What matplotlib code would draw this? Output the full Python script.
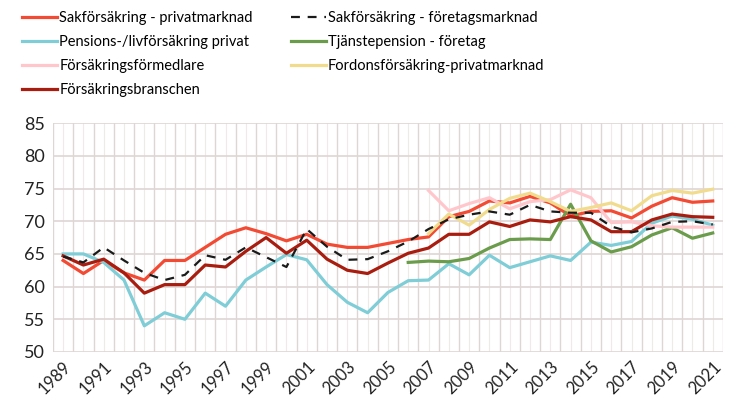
import numpy as np
import matplotlib.pyplot as plt

plt.rcParams['font.family'] = ['Lato', 'DejaVu Sans']

years = list(range(1989, 2022))
nan = np.nan

sak_priv = [64.0, 62.0, 64.0, 62.1, 61.0, 64.0, 64.0, 66.0, 68.0, 69.0, 68.1,
            67.0, 68.0, 66.5, 66.0, 66.0, 66.6, 67.2, 67.6, 70.7, 71.5, 73.1,
            72.8, 73.8, 72.8, 70.8, 71.5, 71.6, 70.5, 72.3, 73.6, 72.9, 73.1]
sak_ftg = [64.6, 63.7, 66.0, 64.0, 62.1, 61.0, 61.8, 64.8, 64.1, 66.0, 64.5,
           63.0, 68.8, 66.1, 64.1, 64.2, 65.4, 66.9, 68.8, 70.3, 71.0, 71.5,
           71.0, 72.5, 71.5, 71.3, 71.3, 69.2, 68.3, 68.9, 69.9, 70.0, 69.5]
pension = [65.0, 65.0, 63.7, 61.0, 54.0, 56.0, 55.0, 59.0, 57.0, 61.0, 63.0,
           64.9, 64.1, 60.3, 57.6, 56.0, 59.1, 60.9, 61.0, 63.5, 61.8, 64.8,
           62.9, 63.8, 64.7, 64.0, 66.8, 66.3, 66.9, 69.7, 70.8, 70.3, 69.4]
tjanste = [nan] * 17 + [63.7, 63.9, 63.8, 64.3, 65.9, 67.2, 67.3, 67.2, 72.6,
                        67.0, 65.3, 66.1, 67.9, 69.0, 67.4, 68.2]
formedlare = [nan] * 18 + [74.7, 71.6, 72.7, 73.6, 71.9, 73.0, 73.3, 74.8, 73.6,
                           69.8, 69.9, 69.3, 69.1, 69.1, 69.1]
fordon = [nan] * 18 + [68.1, 71.1, 69.4, 71.8, 73.5, 74.3, 73.0, 71.5, 72.1,
                       72.8, 71.6, 73.9, 74.7, 74.3, 74.9]
bransch = [64.7, 63.3, 64.2, 62.1, 59.0, 60.3, 60.3, 63.3, 63.0, 65.4, 67.5,
           65.1, 67.1, 64.2, 62.5, 62.0, 63.6, 65.1, 65.9, 68.0, 68.0, 69.9,
           69.2, 70.2, 69.9, 70.7, 70.2, 68.4, 68.4, 70.2, 71.1, 70.7, 70.6]

x = np.arange(len(years))

fig = plt.figure(figsize=(7.46, 4.19), dpi=100)
ax = fig.add_axes([0.071, 0.16, 0.898, 0.546])

# grid: darker lines on category borders, lighter ones in the middle
for b in np.arange(-0.5, len(years), 1.0):
    ax.axvline(b, color='#ded6d4', lw=1.0, zorder=0)
for c in x:
    ax.axvline(c, color='#efeae9', lw=0.8, zorder=0)
for yv in range(50, 90, 5):
    ax.axhline(yv, color='#ded6d4', lw=1.2, zorder=0)

lw = 2.3
l1, = ax.plot(x, sak_priv, color='#f24a33', lw=lw, label='Sakförsäkring - privatmarknad')
l3, = ax.plot(x, pension, color='#7fcdd6', lw=lw, label='Pensions-/livförsäkring privat')
l4, = ax.plot(x, tjanste, color='#6a9c4b', lw=lw, label='Tjänstepension - företag')
l5, = ax.plot(x, formedlare, color='#ffc7cc', lw=lw, label='Försäkringsförmedlare')
l6, = ax.plot(x, fordon, color='#f1dc8e', lw=lw, label='Fordonsförsäkring-privatmarknad')
l7, = ax.plot(x, bransch, color='#a81d0f', lw=lw, label='Försäkringsbranschen')
l2, = ax.plot(x, sak_ftg, color='#1a1a1a', lw=1.6, dashes=(4, 3.5),
              label='Sakförsäkring - företagsmarknad')

ax.set_xlim(-0.5, len(years) - 0.5)
ax.set_ylim(50, 85)
ax.set_yticks(range(50, 90, 5))
ax.set_xticks(x[::2])
ax.set_xticklabels([str(y) for y in years[::2]], rotation=45, ha='right',
                   rotation_mode='anchor', fontsize=12)
ax.tick_params(axis='both', length=0, colors='#222222')
ax.tick_params(axis='y', labelsize=13, pad=6)
ax.tick_params(axis='x', pad=5)
for s in ax.spines.values():
    s.set_visible(False)

fig.legend(handles=[l1, l3, l5, l7, l2, l4, l6], loc='upper left',
           bbox_to_anchor=(0.012, 1.005), ncol=2, frameon=False, fontsize=10.5,
           handlelength=2.4, handletextpad=0.15, columnspacing=2.6,
           labelspacing=0.68)

fig.savefig('out.png', dpi=100)
